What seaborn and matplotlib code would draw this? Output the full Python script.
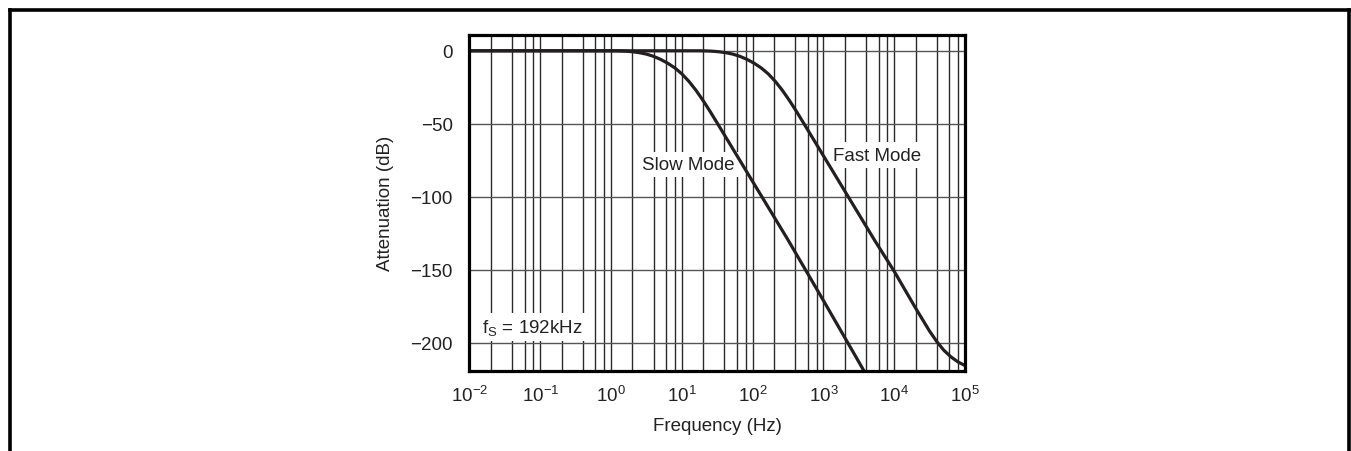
"""
plot.py

Attenuation vs frequency for slow and fast filter modes (fS = 192 kHz).
"""

import pandas as pd
import matplotlib.pyplot as plt
import seaborn as sns
from matplotlib.lines import Line2D
from matplotlib.ticker import LogLocator, NullFormatter

# ============================================================================
# 1. Data
# ============================================================================
slow_freq = [0.01, 1.0, 1.259, 1.585, 1.995, 2.512, 3.162, 3.981, 5.012, 6.310,
             7.943, 10.0, 12.59, 15.85, 19.95, 25.12, 31.62, 100, 316.2, 1000,
             3162, 5012]
slow_db = [0, 0, -0.05, -0.25, -0.65, -1.3, -2.3, -3.8, -5.9, -8.5,
           -11.7, -15.8, -20.95, -27.1, -34.05, -41.6, -49.5, -89.5, -129.5, -171,
           -213, -230]

fast_freq = [0.01, 16.6, 20.9, 26.3, 33.1, 41.7, 52.5, 66.1, 83.2, 104.7,
             131.8, 166.0, 208.9, 263.0, 331.1, 416.9, 524.8, 1660, 5248, 10000,
             19950, 31620, 39810, 50120, 63100, 79430, 100000]
fast_db = [0, 0, -0.05, -0.25, -0.65, -1.3, -2.3, -3.8, -5.9, -8.5,
           -11.7, -15.8, -20.95, -27.1, -34.05, -41.6, -49.5, -89.5, -129.5, -151,
           -176, -192, -199, -205, -209.5, -213, -215.5]

mode_names = ['Slow Mode', 'Fast Mode']
y_ticks = [0, -50, -100, -150, -200]

# ============================================================================
# 2. Style
# ============================================================================
sns.set_theme(style='white')
plt.rcParams['font.family'] = ['Liberation Sans', 'DejaVu Sans']
plt.rcParams['mathtext.fontset'] = 'custom'
plt.rcParams['mathtext.rm'] = 'Liberation Sans'
plt.rcParams['mathtext.it'] = 'Liberation Sans:italic'
plt.rcParams['mathtext.default'] = 'regular'

ink = '#231f20'
txt = '#222222'

df = pd.concat([
    pd.DataFrame({'freq': slow_freq, 'dB': slow_db, 'mode': mode_names[0]}),
    pd.DataFrame({'freq': fast_freq, 'dB': fast_db, 'mode': mode_names[1]}),
], ignore_index=True)

# ============================================================================
# 3. Figure
# ============================================================================
fig = plt.figure(figsize=(13.51, 4.52), dpi=100)
ax = fig.add_axes([0.3475, 0.1777, 0.3668, 0.7433])

sns.lineplot(data=df, x='freq', y='dB', hue='mode', palette=[ink, ink],
             estimator=None, sort=False, legend=False, lw=2.3, ax=ax, zorder=5)

ax.set_xscale('log')
ax.set_xlim(0.01, 1e5)
ax.set_ylim(-219, 11)
ax.set_yticks(y_ticks)
ax.xaxis.set_major_locator(LogLocator(base=10, numticks=20))
# only the even sub-decade lines are drawn on the reference grid
ax.xaxis.set_minor_locator(LogLocator(base=10, subs=[2, 4, 6, 8], numticks=100))
ax.xaxis.set_minor_formatter(NullFormatter())

ax.grid(which='both', axis='x', color='#2a2a2a', lw=1.0)
ax.grid(which='major', axis='y', color='#555555', lw=1.0)
ax.set_axisbelow(True)

ax.tick_params(axis='both', which='both', length=0, labelsize=13.5, colors=txt)
ax.tick_params(axis='y', pad=12)
ax.tick_params(axis='x', pad=10)

for side in ax.spines.values():
    side.set_visible(True)
    side.set_color('black')
    side.set_linewidth(2.3)
    side.set_zorder(6)

ax.set_xlabel('Frequency (Hz)', fontsize=13.5, labelpad=9, color=txt)
ax.set_ylabel('Attenuation (dB)', fontsize=13.5, labelpad=12, color=txt)

box = dict(facecolor='white', edgecolor='none', pad=3)
ax.text(12.4, -77.6, 'Slow Mode', fontsize=13.5, ha='center', va='center',
        bbox=box, zorder=4, color=txt)
ax.text(5800, -71.4, 'Fast Mode', fontsize=13.5, ha='center', va='center',
        bbox=box, zorder=4, color=txt)
ax.text(0.0148, -189, r'f$_\mathrm{S}$ = 192kHz', fontsize=13.5, ha='left',
        va='center', bbox=box, zorder=4, color=txt)

# open frame around the whole figure (bottom edge is cut off)
frame = dict(color='black', lw=2.6, solid_capstyle='projecting')
fig.add_artist(Line2D([0.0072, 0.0072], [0.0, 0.975], transform=fig.transFigure, **frame))
fig.add_artist(Line2D([0.0072, 0.9985], [0.975, 0.975], transform=fig.transFigure, **frame))
fig.add_artist(Line2D([0.9985, 0.9985], [0.0, 0.975], transform=fig.transFigure, **frame))

fig.savefig('out.png', dpi=100)
plt.close(fig)
